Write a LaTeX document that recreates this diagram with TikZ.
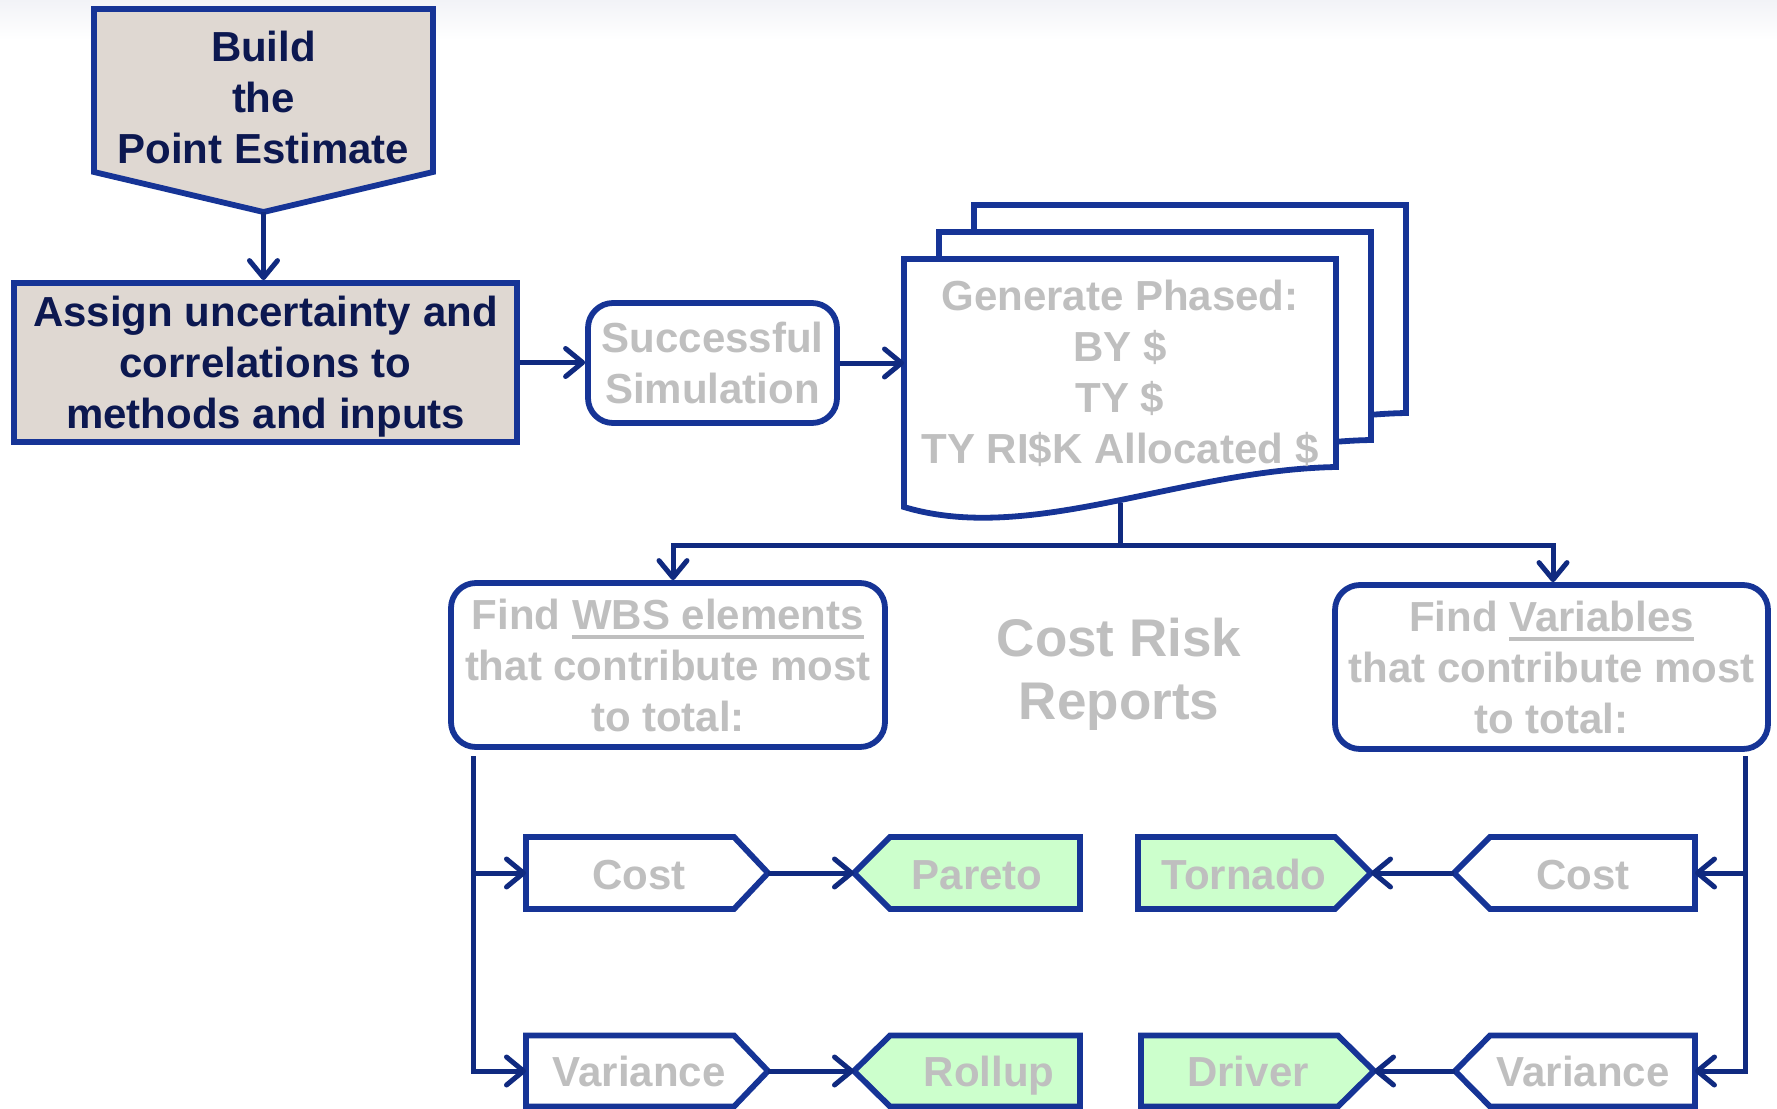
\documentclass[tikz,border=0pt]{standalone}
\usepackage{fontspec}
\setmainfont{Liberation Sans}
\usetikzlibrary{arrows.meta,calc}
\definecolor{outl}{RGB}{22,52,150}
\definecolor{linkc}{RGB}{16,42,128}
\definecolor{navytxt}{RGB}{12,24,80}
\definecolor{beige}{RGB}{223,216,210}
\definecolor{greytxt}{RGB}{191,191,191}
\definecolor{paleg}{RGB}{204,255,204}
\definecolor{topgrey}{RGB}{242,243,247}
\newsavebox\undlbox
\newcommand\undl[1]{\sbox\undlbox{#1}\rlap{\rule[-10pt]{\wd\undlbox}{4pt}}\usebox\undlbox}
\begin{document}
\begin{tikzpicture}[x=1pt,y=-1pt,
  frame/.style={draw=outl,line width=5.8pt,line join=miter},
  inv/.style={rectangle,inner sep=0pt,outer sep=0pt},
  txt/.style={font=\bfseries\fontsize{42}{51}\selectfont,align=center,text=navytxt,inner sep=0pt},
  gtxt/.style={txt,text=greytxt},
  tag/.style={gtxt,anchor=base},
  link/.style={draw=linkc,line width=5pt,-{Straight Barb[length=17pt,width=28pt,round]}},
  wire/.style={draw=linkc,line width=5pt},
]
\useasboundingbox (0,0) rectangle (1777,1108);
\fill[white] (0,0) rectangle (1777,1108);
\shade[top color=topgrey,bottom color=white] (0,0) rectangle (1777,40);

% point estimate (pentagon pointing down)
\node[inv,minimum width=339pt,minimum height=203pt] (build) at (263.5,110.5) {};
\draw[frame,fill=beige] (build.north west) -- (build.north east)
  -- ([yshift=40pt]build.south east) -- (build.south)
  -- ([yshift=40pt]build.south west) -- cycle;
\node[txt] (buildtxt) at (263.5,97) {Build\\the\\Point Estimate};

% uncertainty assignment
\node[frame,fill=beige,minimum width=503pt,minimum height=159pt] (assign) at (265.5,362.5) {};
\node[txt] (assigntxt) at (265.5,367) {Assign uncertainty and\\correlations to\\methods and inputs};

% simulation
\node[gtxt,frame,fill=white,rounded corners=25pt,minimum width=249pt,minimum height=120pt]
  (succ) at (712.5,363) {Successful\\Simulation};

% stack of phased output documents
\node[inv,minimum width=432pt,minimum height=208pt] (gen) at (1120,363) {};
\foreach \dx/\dy in {70/-54,35/-27,0/0}{
  \draw[frame,fill=white]
    ([shift={(\dx,\dy)}]gen.north west) -- ([shift={(\dx,\dy)}]gen.north east)
    -- ([shift={(\dx,\dy)}]gen.south east)
    .. controls ([shift={(\dx-156,\dy+3)}]gen.south east)
       and ([shift={(\dx+126,\dy+78)}]gen.south west)
    .. ([shift={(\dx,\dy+40)}]gen.south west) -- cycle;
}
\node[gtxt] (gentxt) at (1120,373.5) {Generate Phased:\\BY \$\\TY \$\\TY RI\$K Allocated \$};

% report branches
\node[gtxt,frame,fill=white,rounded corners=25pt,minimum width=434pt,minimum height=164pt]
  (wbs) at (668,665) {Find \undl{WBS elements}\\that contribute most\\to total:};
\node[gtxt,frame,fill=white,rounded corners=25pt,minimum width=433pt,minimum height=164pt]
  (vars) at (1551.5,667) {Find \undl{Variables}\\that contribute most\\to total:};
\node[gtxt,font=\bfseries\fontsize{53}{63}\selectfont] (reports) at (1119,674) {Cost Risk\\Reports};

% left column: tags pointing right, reports pointing left
\node[inv,minimum width=242pt,minimum height=72pt] (cost1) at (647,873) {};
\draw[frame,fill=white] (cost1.north west) -- ([xshift=-34pt]cost1.north east) -- (cost1.east)
  -- ([xshift=-34pt]cost1.south east) -- (cost1.south west) -- cycle;
\node[tag] (cost1txt) at (639,889.5) {Cost};

\node[inv,minimum width=242pt,minimum height=71pt] (var1) at (647,1071) {};
\draw[frame,fill=white] (var1.north west) -- ([xshift=-34pt]var1.north east) -- (var1.east)
  -- ([xshift=-34pt]var1.south east) -- (var1.south west) -- cycle;
\node[tag] (var1txt) at (639,1086) {Variance};

\node[inv,minimum width=226pt,minimum height=72pt] (pareto) at (967,873) {};
\draw[frame,fill=paleg] (pareto.west) -- ([xshift=36pt]pareto.north west) -- (pareto.north east)
  -- (pareto.south east) -- ([xshift=36pt]pareto.south west) -- cycle;
\node[tag] (paretotxt) at (977,889.5) {Pareto};

\node[inv,minimum width=226pt,minimum height=71pt] (rollup) at (967,1071) {};
\draw[frame,fill=paleg] (rollup.west) -- ([xshift=36pt]rollup.north west) -- (rollup.north east)
  -- (rollup.south east) -- ([xshift=36pt]rollup.south west) -- cycle;
\node[tag] (rolluptxt) at (989,1086) {Rollup};

% right column: tags pointing left, reports pointing right
\node[inv,minimum width=241pt,minimum height=72pt] (cost2) at (1574.5,873) {};
\draw[frame,fill=white] (cost2.west) -- ([xshift=36pt]cost2.north west) -- (cost2.north east)
  -- (cost2.south east) -- ([xshift=36pt]cost2.south west) -- cycle;
\node[tag] (cost2txt) at (1583,889.5) {Cost};

\node[inv,minimum width=240pt,minimum height=71pt] (var2) at (1575,1071) {};
\draw[frame,fill=white] (var2.west) -- ([xshift=35pt]var2.north west) -- (var2.north east)
  -- (var2.south east) -- ([xshift=35pt]var2.south west) -- cycle;
\node[tag] (var2txt) at (1583,1086) {Variance};

\node[inv,minimum width=233pt,minimum height=72pt] (tornado) at (1254.5,873) {};
\draw[frame,fill=paleg] (tornado.north west) -- ([xshift=-36pt]tornado.north east) -- (tornado.east)
  -- ([xshift=-36pt]tornado.south east) -- (tornado.south west) -- cycle;
\node[tag] (tornadotxt) at (1244,889.5) {Tornado};

\node[inv,minimum width=233pt,minimum height=71pt] (driver) at (1257.5,1071) {};
\draw[frame,fill=paleg] (driver.north west) -- ([xshift=-36pt]driver.north east) -- (driver.east)
  -- ([xshift=-36pt]driver.south east) -- (driver.south west) -- cycle;
\node[tag] (drivertxt) at (1248,1086) {Driver};

% connectors
\draw[link] (build.south) -- (build.south |- assign.north);
\draw[link] (assign.east) -- (assign.east -| succ.west);
\draw[link] (succ.east) -- (succ.east -| gen.west);

\coordinate (genfoot) at (1120,503);
\coordinate (fork) at (1120,545);
\draw[wire] (genfoot) -- (fork);
\draw[link] (fork) -| ([xshift=5pt]wbs.north);
\draw[link] (fork) -| ([xshift=1.5pt]vars.north);

\coordinate (lsplit) at (473,756);
\draw[link] (lsplit) |- (cost1.west);
\draw[link] (lsplit) |- (var1.west);
\coordinate (rsplit) at (1745,756);
\draw[link] (rsplit) |- (cost2.east);
\draw[link] (rsplit) |- (var2.east);

\draw[link] (cost1.east) -- (pareto.west);
\draw[link] (var1.east) -- (rollup.west);
\draw[link] (cost2.west) -- (tornado.east);
\draw[link] (var2.west) -- (driver.east);
\end{tikzpicture}
\end{document}
